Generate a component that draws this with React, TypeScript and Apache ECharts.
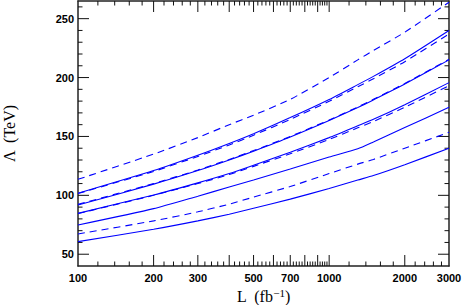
import React, { useEffect, useRef } from "react";
import * as echarts from "echarts";

// Luminosity points (fb^-1)
const L = [100, 200, 300, 400, 500, 700, 1000, 1300, 1500, 2000, 3000];

// Lambda (TeV) curves
const dashedTop = [113.6, 135, 149, 160, 168, 181.5, 200, 215, 223, 238.5, 264];
const solidA = [101.7, 121, 134, 144, 152.3, 166, 181.4, 194, 201, 216, 240];
const dashedA = [101.5, 120.3, 133, 142.8, 151, 164.5, 179.8, 192.2, 199, 213.5, 237];
const solidB = [91.8, 109.5, 121, 130, 137.5, 149.5, 163.5, 174.5, 181, 194.5, 215];
const dashedB = [92.3, 110, 121.5, 130.5, 138, 150, 164, 175, 181.5, 195, 215.5];
const solidC = [84.7, 100.3, 110.6, 118.5, 125.6, 136.5, 149, 159, 164.5, 177, 195.7];
const dashedC = [84.5, 100, 110, 117.7, 124.6, 135.3, 147.5, 157.3, 162.7, 174.8, 193];
const solidD = [74.8, 88.7, 99.3, 107, 113, 122.3, 132.5, 139.5, 145.3, 157.5, 174.7];
const dashedE = [67.2, 78.3, 86, 92.5, 98.5, 107.5, 118.5, 126.5, 130.5, 140, 153.5];
const solidF = [60.7, 71.2, 78.3, 84, 89, 96.8, 105.8, 113, 116.8, 126, 140];

// Axis extents, ticks and labels
const X_MIN = 100;
const X_MAX = 3000;
const Y_MIN = 40;
const Y_MAX = 265;
const xMajorTicks = [200, 300, 400, 500, 600, 700, 800, 900, 1000, 2000];
const xMinorTicks = [
  120, 140, 160, 180, 220, 240, 260, 280, 320, 340, 360, 380, 420, 440, 460, 480,
  520, 540, 560, 580, 620, 640, 660, 680, 720, 740, 760, 780, 820, 840, 860, 880,
  920, 940, 960, 980, 1200, 1400, 1600, 1800, 2200, 2400, 2600, 2800,
];
const xLabels = [100, 200, 300, 500, 700, 1000, 2000, 3000];
const yMajorTicks = [50, 100, 150, 200, 250];
const yMinorTicks = [60, 70, 80, 90, 110, 120, 130, 140, 160, 170, 180, 190, 210, 220, 230, 240, 260];
const yLabels = [50, 100, 150, 200, 250];

const BLUE = "#0000ff";
const TICK = "#111";

type Side = "bottom" | "top" | "left" | "right";

export default function App() {
  const ref = useRef<HTMLDivElement>(null);
  useEffect(() => {
    if (!ref.current) return;
    const chart = echarts.init(ref.current, undefined, { renderer: "svg" });
    const axisLineStyle = { color: "#222", width: 1.5 };

    const mk = (vals: number[], dashed: boolean) => ({
      type: "line",
      xAxisIndex: 0,
      yAxisIndex: 0,
      data: L.map((x, i) => [x, vals[i]]),
      showSymbol: false,
      symbol: "none",
      smooth: 0.2,
      lineStyle: { color: BLUE, width: 1.1, type: dashed ? [7, 5] : "solid" },
    });

    const ticks = (values: number[], side: Side, len: number) => ({
      type: "custom",
      xAxisIndex: 0,
      yAxisIndex: 0,
      data: values.map((v) => (side === "bottom" || side === "top" ? [v, Y_MIN] : [X_MIN, v])),
      renderItem: (_p: any, api: any) => {
        let x1 = 0, y1 = 0, x2 = 0, y2 = 0;
        if (side === "bottom" || side === "top") {
          const c = api.coord([api.value(0), side === "bottom" ? Y_MIN : Y_MAX]);
          x1 = c[0]; x2 = c[0]; y1 = c[1];
          y2 = side === "bottom" ? c[1] - len : c[1] + len;
        } else {
          const c = api.coord([side === "left" ? X_MIN : X_MAX, api.value(1)]);
          y1 = c[1]; y2 = c[1]; x1 = c[0];
          x2 = side === "left" ? c[0] + len : c[0] - len;
        }
        return { type: "line", shape: { x1, y1, x2, y2 }, style: { stroke: TICK, lineWidth: 1 } };
      },
    });

    chart.setOption({
      animation: false,
      grid: { left: 78, right: 14, top: 1, bottom: 39, containLabel: false, outerBoundsMode: "none" },
      xAxis: [
        {
          type: "log",
          logBase: 10,
          min: X_MIN,
          max: X_MAX,
          position: "bottom",
          splitLine: { show: false },
          axisTick: { show: false },
          axisLine: { show: true, lineStyle: axisLineStyle },
          axisLabel: {
            show: true,
            customValues: xLabels,
            margin: 6,
            fontSize: 11,
            fontWeight: "bold",
            color: "#000",
            fontFamily: "Liberation Sans",
            showMinLabel: true,
            showMaxLabel: true,
            formatter: (v: number) => String(Math.round(v)),
          },
          name: "L  (fb{sup|−1})",
          nameLocation: "middle",
          nameGap: 19,
          nameTextStyle: {
            fontFamily: "Liberation Serif",
            fontSize: 16,
            color: "#000",
            lineHeight: 17,
            rich: { sup: { fontFamily: "Liberation Serif", fontSize: 11, lineHeight: 11, verticalAlign: "top", color: "#000" } },
          },
        },
        {
          type: "log",
          logBase: 10,
          min: X_MIN,
          max: X_MAX,
          position: "top",
          splitLine: { show: false },
          axisTick: { show: false },
          axisLine: { show: true, lineStyle: axisLineStyle },
          axisLabel: { show: false },
        },
      ],
      yAxis: [
        {
          type: "value",
          min: Y_MIN,
          max: Y_MAX,
          position: "left",
          splitLine: { show: false },
          axisTick: { show: false },
          axisLine: { show: true, lineStyle: axisLineStyle },
          axisLabel: {
            show: true,
            customValues: yLabels,
            margin: 4,
            fontSize: 11,
            fontWeight: "bold",
            color: "#000",
            fontFamily: "Liberation Sans",
          },
          name: "Λ  (TeV)",
          nameLocation: "middle",
          nameGap: 61,
          nameTextStyle: { fontFamily: "Liberation Serif", fontSize: 16, color: "#000" },
        },
        {
          type: "value",
          min: Y_MIN,
          max: Y_MAX,
          position: "right",
          splitLine: { show: false },
          axisTick: { show: false },
          axisLine: { show: true, lineStyle: axisLineStyle },
          axisLabel: { show: false },
        },
      ],
      series: [
        mk(dashedTop, true),
        mk(solidA, false),
        mk(dashedA, true),
        mk(solidB, false),
        mk(dashedB, true),
        mk(solidC, false),
        mk(dashedC, true),
        mk(solidD, false),
        mk(dashedE, true),
        mk(solidF, false),
        ticks(xMajorTicks, "bottom", 11),
        ticks(xMajorTicks, "top", 11),
        ticks(xMinorTicks, "bottom", 4.5),
        ticks(xMinorTicks, "top", 4.5),
        ticks(yMajorTicks, "left", 11),
        ticks(yMajorTicks, "right", 11),
        ticks(yMinorTicks, "left", 4.5),
        ticks(yMinorTicks, "right", 4.5),
      ],
    });
    return () => chart.dispose();
  }, []);
  return <div ref={ref} style={{ position: "absolute", left: 0, top: 0, width: 463, height: 305 }} />;
}
